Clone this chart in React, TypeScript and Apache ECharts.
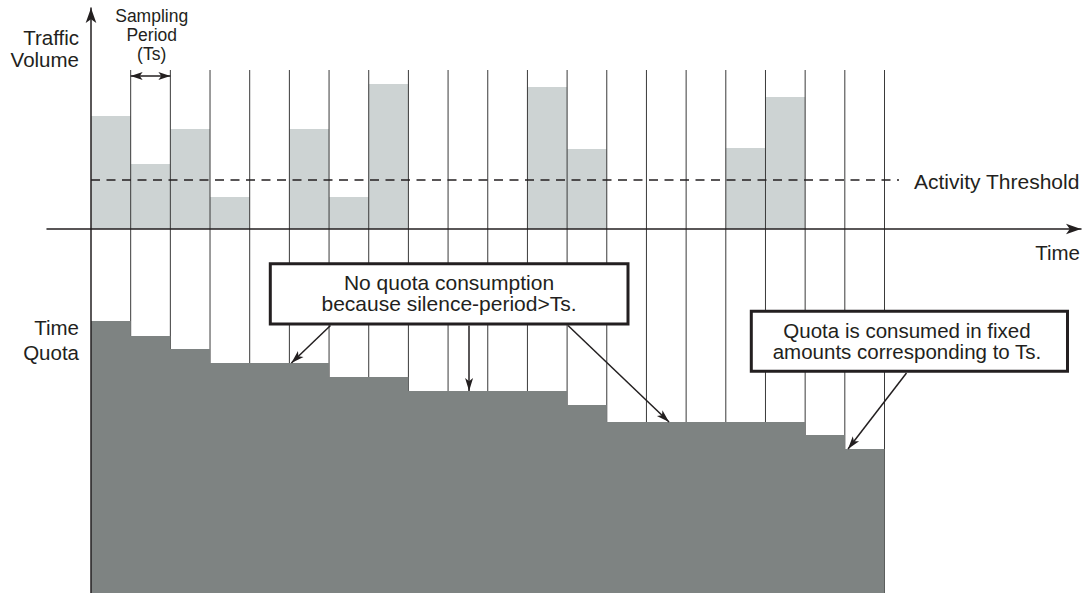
import React, { useEffect, useRef } from 'react';
import * as echarts from 'echarts';

// ---- data ----
const periods = ['P1', 'P2', 'P3', 'P4', 'P5', 'P6', 'P7', 'P8', 'P9', 'P10', 'P11', 'P12', 'P13', 'P14', 'P15', 'P16', 'P17', 'P18', 'P19', 'P20'];
const trafficVolume = [113, 65, 100, 32, 0, 100, 32, 145, 0, 0, 0, 142, 80, 0, 0, 0, 81, 132, 0, 0];
const timeQuota = [272, 257, 244, 230, 230, 230, 216, 216, 202, 202, 202, 202, 188, 171, 171, 171, 171, 171, 158, 144];
const activityThreshold = 49;
const trafficLabel = ['Traffic', 'Volume'];
const quotaLabel = ['Time', 'Quota'];
const samplingLabel = ['Sampling', 'Period', '(Ts)'];
const callout1 = ['No quota consumption', 'because silence-period>Ts.'];
const callout2 = ['Quota is consumed in fixed', 'amounts corresponding to Ts.'];

// ---- layout ----
const PX = 39.675;
const X0 = 91;
const LEFT = 47;
const RIGHT = 1081;
const xMin = (LEFT - X0) / PX;
const xMax = (RIGHT - X0) / PX;
const TOP_H = 221;
const BOT_H = 364;
const gridLineTop = 159;
const thresholdEnd = (899 - X0) / PX;
const INK = '#231f20';
const FONT = '"Liberation Sans", Arial, Helvetica, sans-serif';

function txt(lines: string[], x: number, y: number, align: string, size: number, lh: number) {
  return {
    type: 'text',
    x,
    y,
    z: 100,
    silent: true,
    style: { text: lines.join('\n'), fill: INK, fontSize: size, fontFamily: FONT, align, verticalAlign: 'middle', lineHeight: lh },
  };
}

export default function App() {
  const ref = useRef<HTMLDivElement>(null);
  useEffect(() => {
    if (!ref.current) return;
    const chart = echarts.init(ref.current, null, { renderer: 'svg' });
    const boundaries = periods.map((_, i) => [i + 1]);
    const quotaSteps = timeQuota.map((q, i) => [i, q]).concat([[periods.length, timeQuota[timeQuota.length - 1]]]);
    const hiddenAxis = {
      axisTick: { show: false },
      axisLabel: { show: false },
      splitLine: { show: false },
    };
    const option: any = {
      animation: false,
      grid: [
        { left: LEFT, right: 1085 - RIGHT, top: 8, height: TOP_H },
        { left: LEFT, right: 1085 - RIGHT, top: 8 + TOP_H, height: BOT_H },
      ],
      xAxis: [
        {
          gridIndex: 0, type: 'value', min: xMin, max: xMax, z: 10,
          axisLine: { show: true, onZero: true, symbol: ['none', 'arrow'], symbolSize: [8, 15], lineStyle: { color: INK, width: 1.5 } },
          ...hiddenAxis,
        },
        {
          gridIndex: 1, type: 'value', min: xMin, max: xMax,
          axisLine: { show: false }, ...hiddenAxis,
        },
      ],
      yAxis: [
        {
          gridIndex: 0, type: 'value', min: 0, max: TOP_H, z: 10,
          axisLine: { show: true, onZero: true, symbol: ['none', 'arrow'], symbolSize: [8, 15], lineStyle: { color: INK, width: 1.5 } },
          ...hiddenAxis,
        },
        {
          gridIndex: 1, type: 'value', min: 0, max: BOT_H, z: 10,
          axisLine: { show: true, onZero: true, lineStyle: { color: INK, width: 1.5 } },
          ...hiddenAxis,
        },
      ],
      series: [
        {
          type: 'custom', name: 'Traffic', xAxisIndex: 0, yAxisIndex: 0, z: 1, silent: true,
          data: trafficVolume.map((v, i) => [i, v]),
          renderItem: (params: any, api: any) => {
            const i = api.value(0);
            const v = api.value(1);
            if (!v) return { type: 'group', children: [] };
            const p0 = api.coord([i, v]);
            const p1 = api.coord([i + 1, 0]);
            return {
              type: 'rect',
              shape: { x: p0[0], y: p0[1], width: p1[0] - p0[0], height: p1[1] - p0[1] },
              style: { fill: '#cdd3d3' },
            };
          },
        },
        {
          type: 'custom', name: 'gridTop', xAxisIndex: 0, yAxisIndex: 0, z: 2, silent: true,
          data: boundaries,
          renderItem: (params: any, api: any) => {
            const k = api.value(0);
            const a = api.coord([k, gridLineTop]);
            const b = api.coord([k, 0]);
            return { type: 'line', shape: { x1: a[0], y1: a[1], x2: b[0], y2: b[1] }, style: { stroke: '#3a3a3a', lineWidth: 1 } };
          },
          markLine: {
            silent: true,
            symbol: ['arrow', 'arrow'],
            symbolSize: [6, 12],
            label: { show: false },
            lineStyle: { color: INK, width: 1.5, type: 'solid' },
            data: [[{ coord: [1, 153] }, { coord: [2, 153] }]],
          },
        },
        {
          type: 'line', name: 'Activity Threshold', xAxisIndex: 0, yAxisIndex: 0, z: 3, silent: true,
          symbol: 'none',
          data: [[0, activityThreshold], [thresholdEnd, activityThreshold]],
          lineStyle: { color: INK, width: 1.5, type: [9, 6.5] },
        },
        {
          type: 'custom', name: 'gridBottom', xAxisIndex: 1, yAxisIndex: 1, z: 2, silent: true,
          data: boundaries,
          renderItem: (params: any, api: any) => {
            const k = api.value(0);
            const a = api.coord([k, BOT_H]);
            const b = api.coord([k, 0]);
            return { type: 'line', shape: { x1: a[0], y1: a[1], x2: b[0], y2: b[1] }, style: { stroke: '#3a3a3a', lineWidth: 1 } };
          },
        },
        {
          type: 'line', name: 'Time Quota', xAxisIndex: 1, yAxisIndex: 1, z: 3, silent: true,
          step: 'end', symbol: 'none',
          data: quotaSteps,
          lineStyle: { width: 0 },
          areaStyle: { color: '#7e8382', opacity: 1 },
          markLine: {
            silent: true,
            symbol: ['none', 'arrow'],
            symbolSize: [6, 13],
            label: { show: false },
            lineStyle: { color: INK, width: 1.5, type: 'solid' },
            data: [
              [{ x: 330.5, y: 325.5 }, { coord: [5.05, timeQuota[4]] }],
              [{ x: 469, y: 325.5 }, { coord: [9.53, timeQuota[9]] }],
              [{ x: 568, y: 325.5 }, { coord: [14.57, timeQuota[14]] }],
              [{ x: 906.5, y: 373 }, { coord: [19.08, timeQuota[19]] }],
            ],
          },
        },
      ],
      graphic: [
        txt(trafficLabel, 79, 48.5, 'right', 20.5, 22.2),
        txt(quotaLabel, 79, 340.2, 'right', 20.5, 24.5),
        txt(samplingLabel, 151.7, 35.3, 'center', 17.5, 19),
        txt(['Activity Threshold'], 914, 181.2, 'left', 21, 21),
        txt(['Time'], 1080, 252.9, 'right', 20.5, 21),
        {
          type: 'rect', z: 90, silent: true,
          shape: { x: 270.3, y: 263.7, width: 357.7, height: 60.3 },
          style: { fill: '#ffffff', stroke: INK, lineWidth: 3 },
        },
        txt(callout1, 449, 293.3, 'center', 21, 20.7),
        {
          type: 'rect', z: 90, silent: true,
          shape: { x: 751.3, y: 311.3, width: 316.2, height: 60 },
          style: { fill: '#ffffff', stroke: INK, lineWidth: 3 },
        },
        txt(callout2, 907, 341, 'center', 20.5, 21),
      ],
    };
    chart.setOption(option);
    return () => chart.dispose();
  }, []);
  return <div ref={ref} style={{ position: 'fixed', left: 0, top: 0, width: 1085, height: 593, background: '#fff' }} />;
}
